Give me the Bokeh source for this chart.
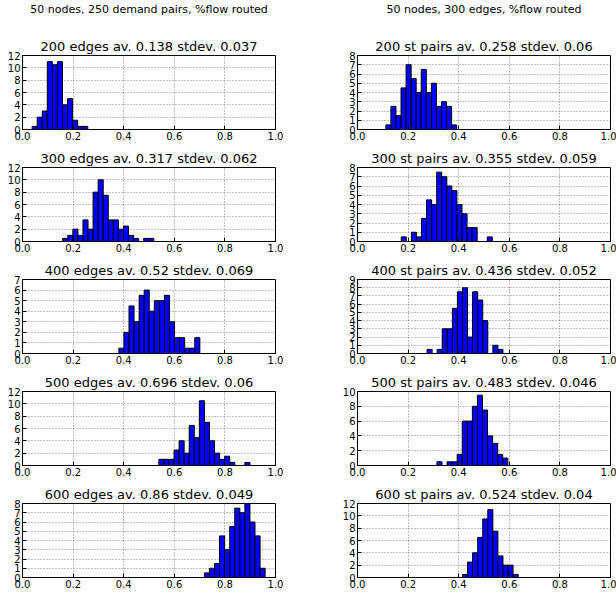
from bokeh.plotting import figure
from bokeh.layouts import gridplot
from bokeh.models import FixedTicker, PrintfTickFormatter, Title, Range1d, ColumnDataSource
from bokeh.embed import file_html
from bokeh.resources import INLINE

BIN_WIDTH = 0.02

left_suptitle = "50 nodes, 250 demand pairs, %flow routed"
right_suptitle = "50 nodes, 300 edges, %flow routed"

# left column: 50 nodes, 250 demand pairs, varying edges
left_titles = [
    "200 edges av. 0.138 stdev. 0.037",
    "300 edges av. 0.317 stdev. 0.062",
    "400 edges av. 0.52 stdev. 0.069",
    "500 edges av. 0.696 stdev. 0.06",
    "600 edges av. 0.86 stdev. 0.049",
]
left_starts = [0.038, 0.159, 0.381, 0.539, 0.719]
counts_200_edges = [0.5, 2, 3, 11, 10.5, 11, 4, 5, 1.5, 0.5, 0.5]
counts_300_edges = [0.5, 1, 2, 1, 3.5, 2, 8, 10, 7.5, 3.5, 3.5, 2, 2.5, 1, 0.5, 0, 0.5, 0.5]
counts_400_edges = [0.5, 2, 4.5, 3, 5.5, 6, 4, 5, 5, 5.5, 3, 1.5, 1.5, 0.5, 0.5, 1.5]
counts_500_edges = [1, 1, 1, 2.5, 4, 2, 6.5, 4.5, 10.5, 7, 4, 2, 1, 1.5, 0.5, 0, 0, 0.5]
counts_600_edges = [0.5, 1, 1.5, 4.5, 3, 5.5, 7.5, 7, 8, 6, 4.5, 1]
left_counts = [counts_200_edges, counts_300_edges, counts_400_edges,
               counts_500_edges, counts_600_edges]
left_ymax = [12, 12, 7, 12, 8]

# right column: 50 nodes, 300 edges, varying st pairs
right_titles = [
    "200 st pairs av. 0.258 stdev. 0.06",
    "300 st pairs av. 0.355 stdev. 0.059",
    "400 st pairs av. 0.436 stdev. 0.052",
    "500 st pairs av. 0.483 stdev. 0.046",
    "600 st pairs av. 0.524 stdev. 0.04",
]
right_starts = [0.112, 0.173, 0.275, 0.314, 0.415]
counts_200_pairs = [0.5, 2.5, 1.5, 4.5, 7, 5.5, 4, 6.5, 4, 5, 2.5, 3, 2.5, 0.5]
counts_300_pairs = [0.5, 0, 1, 0.5, 2.5, 4.5, 4, 7.5, 7, 6, 5.5, 4, 3, 1.5, 1.5, 0, 0, 0.5]
counts_400_pairs = [0.5, 0, 0.5, 3, 3, 5.5, 7.5, 8, 2, 7.5, 6.5, 4, 0, 1, 0.5]
counts_500_pairs = [0.5, 0, 0.5, 0.5, 1.5, 6, 6, 8, 9.5, 7.5, 4, 3, 1.5, 1]
counts_600_pairs = [0.5, 2.5, 4, 6.5, 9.5, 11, 7.5, 3.5, 2, 2, 0.5]
right_counts = [counts_200_pairs, counts_300_pairs, counts_400_pairs,
                counts_500_pairs, counts_600_pairs]
right_ymax = [8, 8, 9, 10, 12]

x_ticks = [0.0, 0.2, 0.4, 0.6, 0.8, 1.0]

FONT = "DejaVu Sans"


def make_header(text, col):
    if col == 0:
        mb_left, mb_right = 0, 20
    else:
        mb_left, mb_right = 32, 0
    p = figure(width=308, height=32, output_backend="svg", toolbar_location=None,
               title=None, x_axis_type=None, y_axis_type=None,
               x_range=Range1d(0, 1), y_range=Range1d(0, 1),
               min_border_left=mb_left, min_border_right=mb_right,
               min_border_top=0, min_border_bottom=0)
    p.outline_line_color = None
    p.xgrid.visible = False
    p.ygrid.visible = False
    p.add_layout(Title(text=text, align="center", text_font=FONT, text_font_size="11px",
                       text_font_style="normal", text_color="black", standoff=0), "above")
    return p


def make_panel(title, start, counts, ymax, col):
    height = 23 + 74 + 15
    if col == 0:
        width, mb_left, mb_right = 308, 22, 33
    else:
        width, mb_left, mb_right = 308, 49, 6
    p = figure(width=width, height=height, output_backend="svg",
               toolbar_location=None, title=None,
               x_range=Range1d(0, 1), y_range=Range1d(0, ymax),
               min_border_left=mb_left, min_border_right=mb_right,
               min_border_top=23, min_border_bottom=15)
    p.background_fill_color = "white"
    p.border_fill_color = "white"
    p.outline_line_color = "black"
    p.outline_line_width = 1

    p.add_layout(Title(text=title, align="center", text_font=FONT, text_font_size="13px",
                       text_font_style="normal", text_color="black", standoff=4), "above")

    left = [start + i * BIN_WIDTH for i in range(len(counts))]
    right = [start + (i + 1) * BIN_WIDTH for i in range(len(counts))]
    src = ColumnDataSource(dict(left=left, right=right, top=counts,
                                bottom=[0] * len(counts)))
    p.quad(left="left", right="right", top="top", bottom="bottom", source=src,
           fill_color="#0000ff", line_color="black", line_width=1)

    step = 2 if ymax >= 10 else 1
    p.yaxis.ticker = FixedTicker(ticks=list(range(0, ymax + 1, step)))
    p.xaxis.ticker = FixedTicker(ticks=x_ticks)
    p.xaxis.formatter = PrintfTickFormatter(format="%.1f")
    for ax in (p.xaxis, p.yaxis):
        ax.major_label_text_font = FONT
        ax.major_label_text_font_size = "10px"
        ax.major_label_text_color = "black"
        ax.major_label_standoff = 2
        ax.major_tick_in = 4
        ax.major_tick_out = 0
        ax.minor_tick_line_color = None
        ax.major_tick_line_color = "black"
        ax.axis_line_color = "black"
    for g in (p.xgrid, p.ygrid):
        g.grid_line_color = "#808080"
        g.grid_line_dash = "1 2"
        g.grid_line_width = 1
    return p


rows = [[make_header(left_suptitle, 0), make_header(right_suptitle, 1)]]
for r in range(5):
    lp = make_panel(left_titles[r], left_starts[r], left_counts[r], left_ymax[r], 0)
    rp = make_panel(right_titles[r], right_starts[r], right_counts[r], right_ymax[r], 1)
    rows.append([lp, rp])

layout = gridplot(rows, toolbar_location=None)

open("out.html", "w").write(file_html(layout, INLINE))
